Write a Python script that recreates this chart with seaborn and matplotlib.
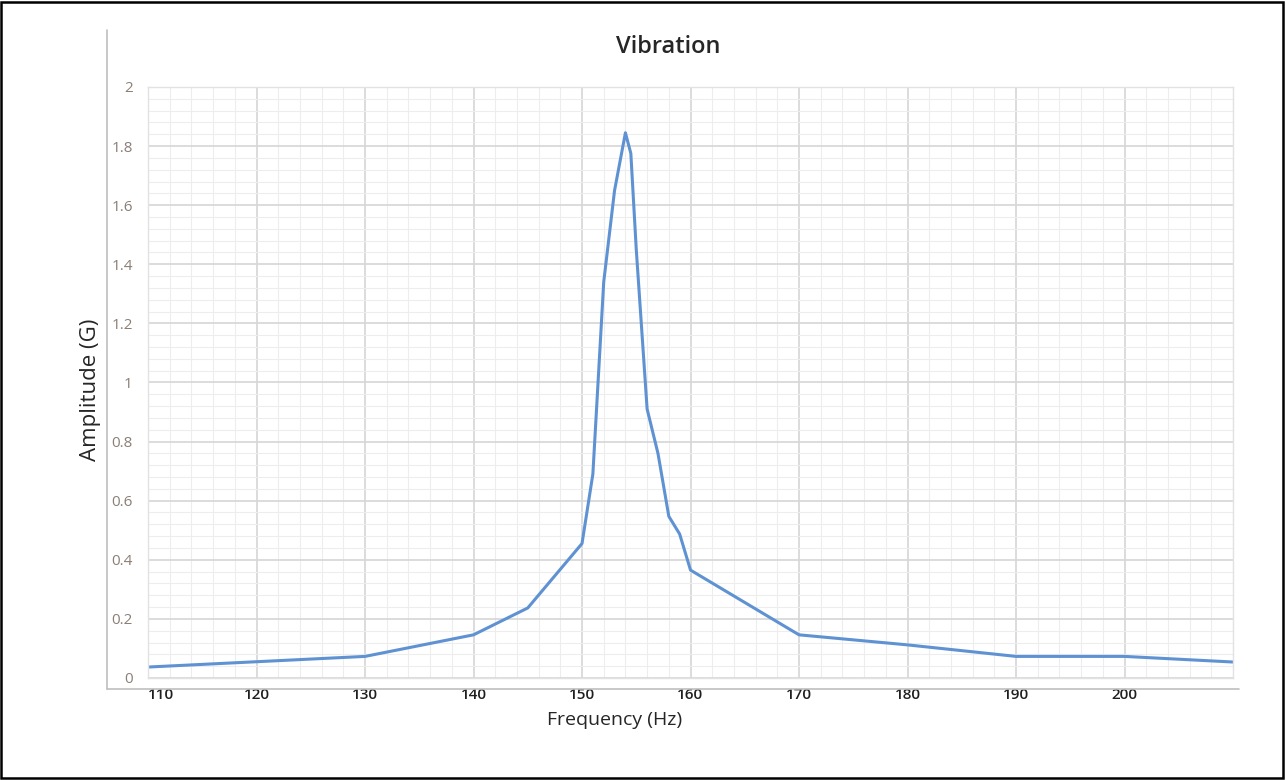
import matplotlib
matplotlib.use("Agg")
import matplotlib.pyplot as plt
from matplotlib.lines import Line2D
from matplotlib.patches import Rectangle
from matplotlib.ticker import MultipleLocator
import seaborn as sns
import pandas as pd

# values
freq = [110, 120, 130, 140, 145, 150, 151, 152, 153, 154, 154.5, 155,
        156, 157, 158, 159, 160, 170, 180, 190, 200, 210]
amplitude = [0.037, 0.055, 0.073, 0.146, 0.237, 0.455, 0.69, 1.34, 1.65, 1.845, 1.775, 1.45,
             0.91, 0.76, 0.547, 0.487, 0.365, 0.146, 0.112, 0.073, 0.073, 0.054]
x_ticks = [110, 120, 130, 140, 150, 160, 170, 180, 190, 200]
y_ticks = [0, 0.2, 0.4, 0.6, 0.8, 1, 1.2, 1.4, 1.6, 1.8, 2]

df = pd.DataFrame({"Frequency (Hz)": freq, "Amplitude (G)": amplitude})

sns.set_style("white")
plt.rcParams["font.family"] = ["Open Sans", "DejaVu Sans"]

fig = plt.figure(figsize=(12.86, 7.80), dpi=100)
ax = fig.add_axes([0.1151, 0.1308, 0.9588 - 0.1151, 0.8885 - 0.1308])

sns.lineplot(data=df, x="Frequency (Hz)", y="Amplitude (G)", ax=ax,
             color="#5f92d2", linewidth=2.2, sort=False)

ax.set_xlim(110, 210)
ax.set_ylim(0, 2)
ax.set_xticks(x_ticks)
ax.set_yticks(y_ticks)
ax.set_yticklabels([f"{v:g}" for v in y_ticks])
ax.xaxis.set_minor_locator(MultipleLocator(2))
ax.yaxis.set_minor_locator(MultipleLocator(0.04))
ax.grid(which="major", color="#d6d6d6", linewidth=1.2)
ax.grid(which="minor", color="#ededed", linewidth=0.8)
ax.set_axisbelow(True)
for s in ax.spines.values():
    s.set_color("#e2e2e2")
    s.set_linewidth(1.0)

ax.tick_params(axis="both", which="both", length=0)
ax.tick_params(axis="x", pad=7, labelsize=11, labelcolor="#1f1f1f")
ax.tick_params(axis="y", pad=11, labelsize=11, labelcolor="#8a7f76")
for lbl in ax.get_xticklabels():
    lbl.set_fontweight("semibold")
ax.get_xticklabels()[0].set_horizontalalignment("left")

fig.text(668 / 1286, 1 - 47 / 780, "Vibration", fontsize=17, fontweight="semibold",
         color="#262626", ha="center", va="center")
ax.set_xlabel("Frequency (Hz)", fontsize=14, color="#262626")
ax.xaxis.set_label_coords((615 - 148) / (1233 - 148), -(720 - 678) / (678 - 87))
ax.xaxis.label.set_verticalalignment("center")
ax.set_ylabel("Amplitude (G)", fontsize=16, color="#262626")
ax.yaxis.set_label_coords(-(148 - 90) / (1233 - 148), (678 - 390) / (678 - 87))
ax.yaxis.label.set_verticalalignment("center")

# chart area edges and outer frame
fig.add_artist(Line2D([107 / 1286, 107 / 1286], [1 - 30 / 780, 1 - 689 / 780],
                      transform=fig.transFigure, color="#bfbfbf", linewidth=1.2))
fig.add_artist(Line2D([107 / 1286, 1239 / 1286], [1 - 689 / 780, 1 - 689 / 780],
                      transform=fig.transFigure, color="#bfbfbf", linewidth=1.2))
fig.add_artist(Rectangle((0.001, 0.002), 0.997, 0.995, transform=fig.transFigure,
                         fill=False, edgecolor="black", linewidth=1.8))

fig.savefig("out.png", dpi=100)
